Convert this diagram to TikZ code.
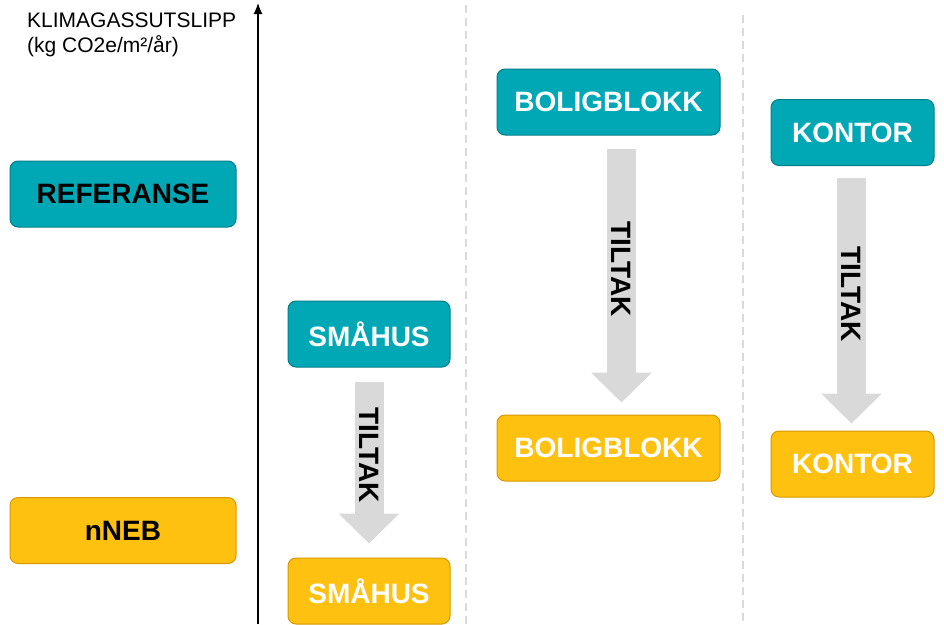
\documentclass[tikz,border=0pt]{standalone}
\usepackage{fontspec}
\setmainfont{Liberation Sans}
\usetikzlibrary{arrows.meta}
\definecolor{tealfill}{RGB}{0,168,181}
\definecolor{tealline}{RGB}{0,126,138}
\definecolor{yellowfill}{RGB}{255,193,16}
\definecolor{yellowline}{RGB}{214,152,0}
\definecolor{arrowgray}{RGB}{217,217,217}
\definecolor{sepgray}{RGB}{218,218,218}
\tikzset{
x=1pt, y=-1pt, % one unit is one pixel, y grows downwards
box/.style={rounded corners=8pt, line width=1pt, minimum height=66pt, inner sep=0pt, font=\fontsize{28}{30}\selectfont\bfseries}, % every box
before/.style={box, draw=tealline, fill=tealfill}, % teal box: before measures
after/.style={box, draw=yellowline, fill=yellowfill}, % yellow box: after measures
tiltak/.style={draw=arrowgray, line width=29pt, -{Triangle[width=59pt, length=30pt]}}, % the big gray arrows
sep/.style={draw=sepgray, line width=1.2pt, dash pattern=on 8pt off 5pt}, % column separators
}

\begin{document}
\begin{tikzpicture}
      \useasboundingbox (0,0) rectangle (944,624);

      % y axis
      \coordinate (base) at (258,624);
      \coordinate (top) at (258,3);
      \draw[line width=1.2pt, -{Latex[length=11pt, width=9pt]}] (base) -- (top);
      \node[anchor=north west, align=left, inner sep=0pt, font=\fontsize{21}{25}\selectfont] (ylab) at (27,13)
        {KLIMAGASSUTSLIPP\\(kg CO2e/m²/år)};

      % separators
      \coordinate (d1) at (466,5);
      \coordinate (d2) at (466,624);
      \coordinate (d3) at (743,15);
      \coordinate (d4) at (743,624);
      \draw[sep] (d1) -- (d2);
      \draw[sep] (d3) -- (d4);

      % legend
      \node[before, minimum width=226pt, text=black] (ref) at (123,194) {REFERANSE};
      \node[after, minimum width=226pt, text=black] (neb) at (123,530.5) {nNEB};

      % buildings
      \node[before, minimum width=162pt, text=white] (s0) at (369,334) {SMÅHUS};
      \node[after, minimum width=162pt, text=white] (s1) at (369,591) {SMÅHUS};
      \node[before, minimum width=223pt, text=white] (b0) at (608.5,102) {BOLIGBLOKK};
      \node[after, minimum width=223pt, text=white] (b1) at (608.5,448) {BOLIGBLOKK};
      \node[before, minimum width=163pt, text=white] (k0) at (852.5,132.5) {KONTOR};
      \node[after, minimum width=163pt, text=white] (k1) at (852.5,464) {KONTOR};

      \draw[tiltak, shorten <=14pt, shorten >=14pt] (s0) -- (s1)
        node[pos=0.46, rotate=-90, font=\fontsize{28}{30}\selectfont\bfseries] (t0) {TILTAK};
      \draw[tiltak, shorten <=13pt, shorten >=12pt] ([xshift=13pt]b0.south) -- ([xshift=13pt]b1.north)
        node[pos=0.48, rotate=-90, font=\fontsize{28}{30}\selectfont\bfseries] (t1) {TILTAK};
      \draw[tiltak, shorten <=12pt, shorten >=7pt] ([xshift=-1pt]k0.south) -- ([xshift=-1pt]k1.north)
        node[pos=0.485, rotate=-90, font=\fontsize{28}{30}\selectfont\bfseries] (t2) {TILTAK};
    \end{tikzpicture}
\end{document}
